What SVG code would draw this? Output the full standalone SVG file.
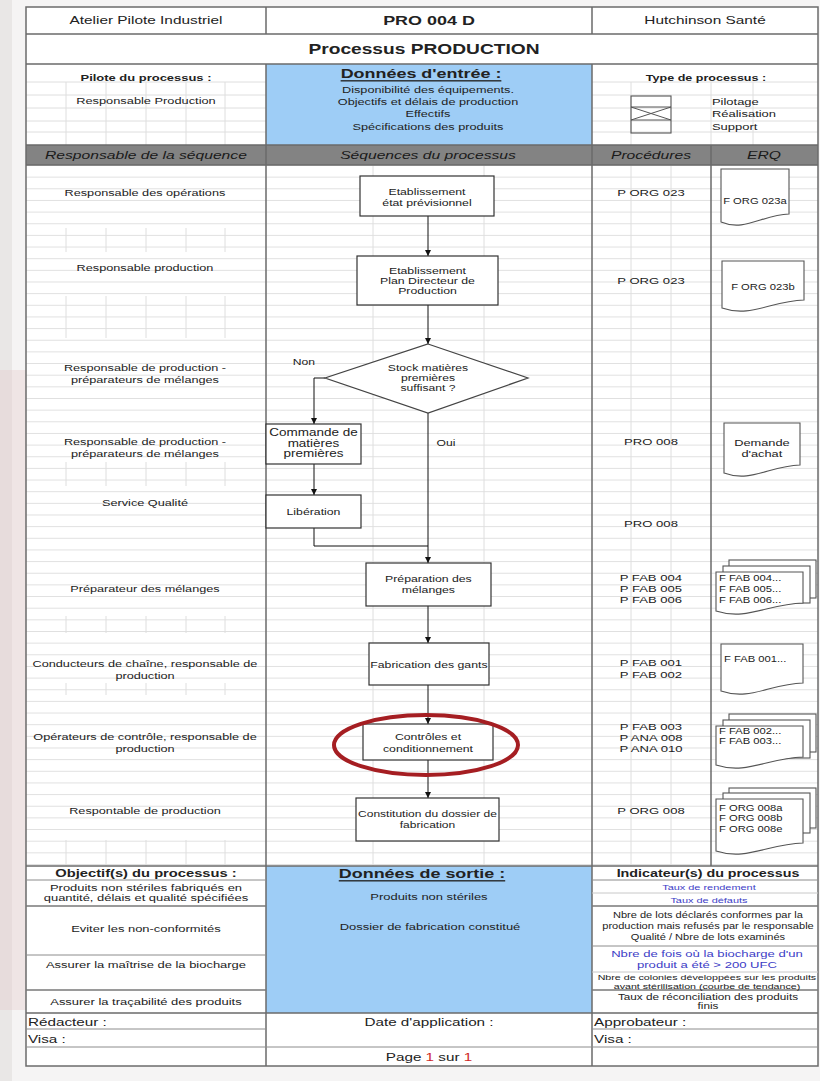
<svg xmlns="http://www.w3.org/2000/svg" width="820" height="1081" viewBox="0 0 820 1081">
<style>
text{font-family:"Liberation Sans",Arial,sans-serif;fill:#222;dominant-baseline:central;text-anchor:middle;transform-box:fill-box;transform-origin:center;transform:scaleX(1.35)}
.l{text-anchor:start;transform-origin:left center}
.b{font-weight:bold}
.i{font-style:italic;fill:#1a1a1a}
.u{text-decoration:underline}
.bt{fill:#3d3dc6}
.red{fill:#d02828}
.s142{font-size:14.2px}.s133{font-size:13.3px}.s114{font-size:11.4px}.s113{font-size:11.3px}.s116{font-size:11.6px}
.s109{font-size:10.9px}.s106{font-size:10.6px}.s100{font-size:10px}.s97{font-size:9.7px}.s96{font-size:9.6px}.s95{font-size:9.5px}.s94{font-size:9.4px}.s93{font-size:9.3px}
.s91{font-size:9.1px}.s90{font-size:9px}.s89{font-size:8.9px}.s87{font-size:8.7px}.s83{font-size:8.3px}.s82{font-size:8.2px}.s81{font-size:8.1px}.s79{font-size:7.9px}
.box{fill:#fff;stroke:#333;stroke-width:1.2}
.doc{fill:#fff;stroke:#555;stroke-width:1.1}
.conn{fill:none;stroke:#111;stroke-width:1}
.frame{fill:none;stroke:#6b6b6b;stroke-width:1.5}
.grid{fill:none;stroke:#dedede;stroke-width:1}
</style>
<defs>
<pattern id="hg" patternUnits="userSpaceOnUse" x="0" y="165" width="10" height="11.65"><path d="M0,0.5H10" stroke="#e0e0e0" stroke-width="1"/></pattern>
<marker id="ah" viewBox="0 0 10 10" refX="10" refY="5" markerWidth="6" markerHeight="6" markerUnits="userSpaceOnUse" orient="auto"><path d="M0,0L10,5L0,10z" fill="#111"/></marker>
</defs>

<g id="background">
<rect width="820" height="1081" fill="#f5f4f4"/>
<rect width="12" height="1081" fill="#e9e7e6"/>
<rect x="0" y="370" width="26" height="640" fill="#e6c9c9" opacity="0.35"/>
<rect x="26" y="7" width="792" height="1059" fill="#fff"/>
<rect x="266" y="64" width="326" height="81" fill="#9ecdf6"/>
<rect x="266" y="866" width="326" height="147" fill="#9ecdf6"/>
<rect x="26" y="145" width="792" height="20" fill="#838383"/>
</g>

<g id="grid" class="grid">
<rect x="26" y="165" width="792" height="701" fill="url(#hg)" stroke="none"/>
<path d="M373,165V866M484,165V866M631,165V866M671,165V866"/>
<path d="M26,82H266M26,95H266M26,108H266M26,121H266M26,132H266M592,82H818M592,95H818M592,108H818M592,121H818M592,132H818"/>
<path d="M66,82V145M106,82V145M146,82V145M186,82V145M225,82V145M631,82V145M711,82V145M753,82V145"/>
<path d="M66,228V252M106,228V252M146,228V252M186,228V252M225,228V252"/>
<path d="M66,296V338M106,296V338M146,296V338M186,296V338M225,296V338"/>
<path d="M66,462V486M106,462V486M146,462V486M186,462V486M225,462V486"/>
<path d="M66,616V633M106,616V633M146,616V633M186,616V633M225,616V633"/>
<path d="M66,683V695M106,683V695M146,683V695M186,683V695M225,683V695"/>
<path d="M66,840V866M106,840V866M146,840V866M186,840V866M225,840V866"/>
</g>

<g id="frame">
<rect class="frame" x="26" y="7" width="792" height="1059"/>
<path class="frame" d="M26,34H818M26,64H818M26,145H818M26,165H818M26,866H818M26,1013H818"/>
<path class="frame" d="M266,7V34M592,7V34M266,64V1066M592,64V1066M711,145V866"/>
<path fill="none" stroke="#8c8c8c" stroke-width="1" d="M26,880H266M592,880H818M26,955H266M592,946H818M26,1029H266M592,1029H818M26,1047H818"/>
<path fill="none" stroke="#7a7a7a" stroke-width="1.5" d="M26,906H266M592,906H818M26,990H266M592,990H818"/>
<path fill="none" stroke="#c8c8c8" stroke-width="1" d="M592,893H818M592,972H818"/>
</g>

<g id="header">
<text class="s114" x="146" y="20">Atelier Pilote Industriel</text>
<text class="b s133" x="429" y="20">PRO 004 D</text>
<text class="s114" x="705" y="20">Hutchinson Santé</text>
<text class="b s142" x="424" y="49">Processus PRODUCTION</text>
</g>

<g id="pilote">
<text class="b s96" x="146" y="78">Pilote du processus :</text>
<text class="s95" x="146" y="101">Responsable Production</text>
</g>

<g id="donnees-entree">
<text class="b u s133" x="421" y="73">Données d'entrée :</text>
<text class="s94" x="428" y="90">Disponibilité des équipements.</text>
<text class="s94" x="428" y="102">Objectifs et délais de production</text>
<text class="s94" x="428" y="114">Effectifs</text>
<text class="s94" x="428" y="127">Spécifications des produits</text>
</g>

<g id="type-processus">
<text class="b s93" x="706" y="78">Type de processus :</text>
<rect x="631" y="96" width="40" height="37" fill="none" stroke="#555" stroke-width="1.1"/>
<path d="M631,107H671M631,120H671M631,107L671,120M631,120L671,107" fill="none" stroke="#555" stroke-width="1"/>
<text class="l s96" x="712" y="102">Pilotage</text>
<text class="l s96" x="712" y="114">Réalisation</text>
<text class="l s96" x="712" y="127">Support</text>
</g>

<g id="column-headers">
<text class="i s116" x="146" y="155">Responsable de la séquence</text>
<text class="i s116" x="428" y="155">Séquences du processus</text>
<text class="i s116" x="651" y="155">Procédures</text>
<text class="i s116" x="764" y="155">ERQ</text>
</g>

<g id="responsables">
<text class="s94" x="145" y="193">Responsable des opérations</text>
<text class="s94" x="145" y="268">Responsable production</text>
<text class="s94" x="145" y="368">Responsable de production -</text>
<text class="s94" x="145" y="380">préparateurs de mélanges</text>
<text class="s94" x="145" y="442">Responsable de production -</text>
<text class="s94" x="145" y="454">préparateurs de mélanges</text>
<text class="s94" x="145" y="503">Service Qualité</text>
<text class="s94" x="145" y="589">Préparateur des mélanges</text>
<text class="s94" x="145" y="664">Conducteurs de chaîne, responsable de</text>
<text class="s94" x="145" y="676">production</text>
<text class="s94" x="145" y="737">Opérateurs de contrôle, responsable de</text>
<text class="s94" x="145" y="749">production</text>
<text class="s94" x="145" y="811">Respontable de production</text>
</g>

<g id="procedures">
<text class="s97" x="651" y="193">P ORG 023</text>
<text class="s97" x="651" y="281">P ORG 023</text>
<text class="s97" x="651" y="442">PRO 008</text>
<text class="s97" x="651" y="524">PRO 008</text>
<text class="s97" x="651" y="578">P FAB 004</text>
<text class="s97" x="651" y="589">P FAB 005</text>
<text class="s97" x="651" y="600">P FAB 006</text>
<text class="s97" x="651" y="663">P FAB 001</text>
<text class="s97" x="651" y="675">P FAB 002</text>
<text class="s97" x="651" y="727">P FAB 003</text>
<text class="s97" x="651" y="738">P ANA 008</text>
<text class="s97" x="651" y="749">P ANA 010</text>
<text class="s97" x="651" y="811">P ORG 008</text>
</g>

<g id="connectors">
<path class="conn" d="M428,216V256" marker-end="url(#ah)"/>
<path class="conn" d="M428,305V344" marker-end="url(#ah)"/>
<path class="conn" d="M325,378H314V424" marker-end="url(#ah)"/>
<path class="conn" d="M428,413V563" marker-end="url(#ah)"/>
<path class="conn" d="M314,464V495" marker-end="url(#ah)"/>
<path class="conn" d="M314,528V546H428"/>
<path class="conn" d="M428,606V643" marker-end="url(#ah)"/>
<path class="conn" d="M428,685V724" marker-end="url(#ah)"/>
<path class="conn" d="M428,760V798" marker-end="url(#ah)"/>
<text class="s90" x="304" y="362">Non</text>
<text class="s90" x="446" y="443">Oui</text>
</g>

<g id="n-etat">
<rect class="box" x="360" y="176" width="134" height="40"/>
<text class="s91" x="427" y="192">Etablissement</text>
<text class="s91" x="427" y="202.5">état prévisionnel</text>
</g>
<g id="n-pdp">
<rect class="box" x="357" y="256" width="141" height="49"/>
<text class="s91" x="427.5" y="271">Etablissement</text>
<text class="s91" x="427.5" y="281">Plan Directeur de</text>
<text class="s91" x="427.5" y="291">Production</text>
</g>
<g id="n-stock">
<polygon points="428,344 528,378 428,413 325,378" fill="#fff" stroke="#444" stroke-width="1.2"/>
<text class="s90" x="428" y="368">Stock matières</text>
<text class="s90" x="428" y="378">premières</text>
<text class="s90" x="428" y="388">suffisant ?</text>
</g>
<g id="n-commande">
<rect class="box" x="266" y="424" width="95" height="40"/>
<text class="s100" x="313.5" y="433">Commande de</text>
<text class="s100" x="313.5" y="443.5">matières</text>
<text class="s100" x="313.5" y="454">premières</text>
</g>
<g id="n-liberation">
<rect class="box" x="266" y="495" width="95" height="33"/>
<text class="s91" x="313.5" y="512">Libération</text>
</g>
<g id="n-preparation">
<rect class="box" x="366" y="563" width="125" height="43"/>
<text class="s91" x="428.5" y="579">Préparation des</text>
<text class="s91" x="428.5" y="589.5">mélanges</text>
</g>
<g id="n-fabrication">
<rect class="box" x="369" y="643" width="120" height="42"/>
<text class="s91" x="429" y="664.5">Fabrication des gants</text>
</g>
<g id="n-controles">
<rect class="box" x="363" y="724" width="130" height="36"/>
<text class="s91" x="428" y="737">Contrôles et</text>
<text class="s91" x="428" y="749">conditionnement</text>
</g>
<g id="n-constitution">
<rect class="box" x="356" y="798" width="143" height="43"/>
<text class="s89" x="427.5" y="814">Constitution du dossier de</text>
<text class="s89" x="427.5" y="824.5">fabrication</text>
</g>

<g id="highlight">
<ellipse cx="426" cy="745" rx="92" ry="30" fill="none" stroke="#a51e22" stroke-width="4"/>
</g>

<g id="erq-org023a">
<path class="doc" d="M721,169H789V214C761.8,215 744.8,232 721,222Z"/>
<text class="s83" x="755" y="201">F ORG 023a</text>
</g>
<g id="erq-org023b">
<path class="doc" d="M722,261H804V300C771.2,301 750.7,318 722,308Z"/>
<text class="s83" x="763" y="287">F ORG 023b</text>
</g>
<g id="erq-demande">
<path class="doc" d="M724,423H800V465C769.6,466 750.6,483 724,473Z"/>
<text class="s95" x="762" y="443">Demande</text>
<text class="s95" x="762" y="454">d'achat</text>
</g>
<g id="erq-fab004">
<rect class="doc" x="729" y="560" width="87" height="38"/>
<rect class="doc" x="723" y="566" width="87" height="37"/>
<path class="doc" d="M716,572H803V603C768.2,604 746.5,621 716,611Z"/>
<text class="l s83" x="719" y="578">F FAB 004...</text>
<text class="l s83" x="719" y="589">F FAB 005...</text>
<text class="l s83" x="719" y="600">F FAB 006...</text>
</g>
<g id="erq-fab001">
<path class="doc" d="M721,644H803V683C770.2,684 749.7,701 721,691Z"/>
<text class="l s83" x="724" y="659">F FAB 001...</text>
</g>
<g id="erq-fab002">
<rect class="doc" x="729" y="714" width="87" height="38"/>
<rect class="doc" x="723" y="720" width="87" height="38"/>
<path class="doc" d="M716,726H803V757C768.2,758 746.5,775 716,765Z"/>
<text class="l s83" x="719" y="731">F FAB 002...</text>
<text class="l s83" x="719" y="741">F FAB 003...</text>
</g>
<g id="erq-org008">
<rect class="doc" x="729" y="788" width="87" height="40"/>
<rect class="doc" x="723" y="793" width="87" height="40"/>
<path class="doc" d="M716,799H803V843C768.2,844 746.5,861 716,851Z"/>
<text class="l s83" x="719" y="808">F ORG 008a</text>
<text class="l s83" x="719" y="818">F ORG 008b</text>
<text class="l s83" x="719" y="829">F ORG 008e</text>
</g>

<g id="objectifs">
<text class="b s109" x="146" y="873">Objectif(s) du processus :</text>
<text class="s96" x="146" y="888">Produits non stériles fabriqués en</text>
<text class="s96" x="146" y="898">quantité, délais et qualité spécifiées</text>
<text class="s96" x="146" y="929">Eviter les non-conformités</text>
<text class="s96" x="146" y="965">Assurer la maîtrise de la biocharge</text>
<text class="s96" x="146" y="1002">Assurer la traçabilité des produits</text>
</g>

<g id="donnees-sortie">
<text class="b u s133" x="422" y="873">Données de sortie :</text>
<text class="s96" x="429" y="897">Produits non stériles</text>
<text class="s96" x="430" y="927">Dossier de fabrication constitué</text>
</g>

<g id="indicateurs">
<text class="b s106" x="708" y="874">Indicateur(s) du processus</text>
<text class="bt s81" x="709" y="887">Taux de rendement</text>
<text class="bt s81" x="709" y="900">Taux de défauts</text>
<text class="s82" x="708" y="915">Nbre de lots déclarés conformes par la</text>
<text class="s82" x="708" y="926">production mais refusés par le responsable</text>
<text class="s82" x="708" y="937">Qualité / Nbre de lots examinés</text>
<text class="bt s97" x="707" y="954">Nbre de fois où la biocharge d'un</text>
<text class="bt s97" x="707" y="965">produit a été &gt; 200 UFC</text>
<text class="s79" x="707" y="977">Nbre de colonies développées sur les produits</text>
<text class="s79" x="707" y="986">avant stérilisation (courbe de tendance)</text>
<text class="s87" x="708" y="997">Taux de réconciliation des produits</text>
<text class="s87" x="708" y="1006">finis</text>
</g>

<g id="footer">
<text class="l s113" x="28" y="1022">Rédacteur :</text>
<text class="s113" x="429" y="1022">Date d'application :</text>
<text class="l s113" x="594" y="1022">Approbateur :</text>
<text class="l s113" x="28" y="1039">Visa :</text>
<text class="l s113" x="594" y="1039">Visa :</text>
<text class="s113" x="429" y="1057">Page <tspan class="red">1</tspan> sur <tspan class="red">1</tspan></text>
</g>
</svg>
